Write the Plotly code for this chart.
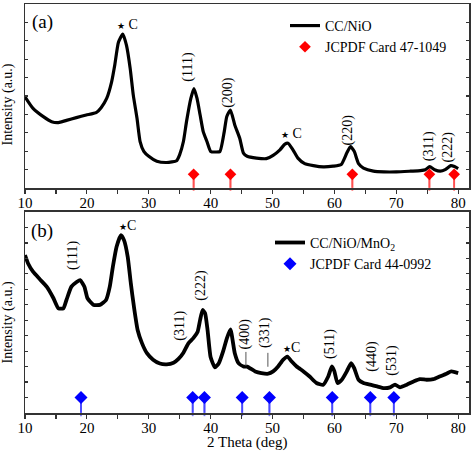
import plotly.graph_objects as go

# ---------------- data ----------------
theta_a = [10, 11.3, 12.96, 14.3, 15.4, 16.7, 18.3, 19.9, 21.5, 22.3,
           23.2, 24.0, 24.5, 25.1, 25.8, 26.4, 27.0, 27.5, 28.1, 28.6,
           29.2, 30.0, 31.3, 32.9, 34.5, 35.0, 35.6, 36.1, 36.8, 37.3,
           37.8, 38.3, 38.8, 39.4, 40.0, 40.7, 41.5, 42.2, 42.6, 43.2,
           43.9, 44.7, 45.3, 45.9, 47.4, 49.0, 50.1, 51.2, 52.0, 52.5,
           53.3, 54.1, 55.2, 56.6, 58.2, 59.8, 61.1, 62.0, 62.6, 63.2,
           63.9, 64.7, 66.3, 68.0, 70.0, 72.3, 73.9, 74.7, 75.4, 76.2,
           77.1, 77.9, 78.8, 79.4, 80.0]
intensity_a = [4.96, 4.33, 3.88, 3.61, 3.56, 3.68, 3.83, 3.97, 4.10, 4.37,
               4.87, 5.77, 6.67, 7.92, 8.37, 7.75, 6.49, 5.05, 3.79, 2.53,
               2.0, 1.73, 1.46, 1.39, 1.49, 1.82, 2.53, 3.61, 4.87, 5.41,
               4.87, 3.97, 3.07, 2.53, 1.99, 1.96, 1.99, 3.07, 3.88, 4.24,
               3.43, 2.71, 1.9, 1.73, 1.63, 1.6, 1.78, 2.08, 2.39, 2.44,
               2.08, 1.63, 1.33, 1.22, 1.15, 1.19, 1.28, 1.9, 2.26, 2.0,
               1.33, 1.09, 0.92, 0.88, 0.88, 0.92, 0.95, 1.0, 1.17, 1.0,
               0.92, 1.0, 1.22, 1.17, 1.06]

theta_b = [10, 10.5, 11.3, 12.4, 13.5, 14.6, 15.4, 16.2, 16.7, 17.5,
           18.4, 18.9, 19.6, 20.1, 21.1, 22.1, 23.1, 23.7, 24.2, 24.8,
           25.5, 26.0, 26.6, 27.1, 27.6, 28.2, 28.9, 29.7, 30.7, 31.8,
           32.9, 34.0, 34.8, 35.6, 36.4, 37.2, 37.9, 38.3, 38.7, 39.1,
           39.5, 40.0, 40.7, 41.3, 42.0, 42.6, 43.2, 43.9, 44.5, 45.3,
           45.9, 47.2, 48.2, 49.3, 50.1, 50.9, 51.7, 52.4, 53.1, 53.9,
           55.0, 56.0, 57.1, 58.2, 59.0, 59.6, 60.0, 60.5, 61.2, 62.0,
           62.7, 63.2, 63.9, 64.7, 65.8, 66.9, 68.0, 69.0, 69.8, 70.6,
           71.7, 72.8, 73.8, 74.9, 76.0, 77.0, 78.1, 78.9, 80.0]
intensity_b = [10.21, 9.67, 9.14, 8.65, 8.17, 7.42, 6.77, 6.77, 7.31, 8.17,
               8.49, 8.6, 8.17, 7.42, 6.99, 6.99, 7.31, 8.17, 9.46, 10.75,
               11.5, 11.18, 10.1, 8.39, 6.88, 5.37, 4.52, 3.87, 3.45, 3.2,
               3.15, 3.25, 3.5, 3.9, 4.5, 4.84, 5.26, 6.02, 6.66, 6.45,
               5.37, 3.6, 2.95, 3.2, 3.97, 4.8, 5.4, 3.87, 3.23, 3.01,
               3.0, 2.69, 2.58, 2.54, 2.69, 3.01, 3.44, 3.65, 3.33, 3.01,
               2.69, 2.36, 1.94, 1.83, 2.36, 3.01, 2.69, 1.94, 2.15, 2.69,
               3.23, 2.9, 2.15, 1.94, 1.83, 1.72, 1.61, 1.66, 1.83, 1.66,
               1.83, 2.04, 2.19, 2.15, 2.19, 2.36, 2.54, 2.69, 2.58]

ref_a_theta = [37.25, 43.2, 62.9, 75.35, 79.35]
ref_a_height = [0.75, 0.75, 0.75, 0.75, 0.75]
ref_b_theta = [19.05, 37.1, 39.0, 45.1, 49.5, 59.65, 65.8, 69.6]
ref_b_height = [1.0, 1.0, 1.0, 1.0, 1.0, 1.0, 1.0, 1.0]

name_a = "CC/NiO"
name_ref_a = "JCPDF Card 47-1049"
name_b = "CC/NiO/MnO<sub>2</sub>"
name_ref_b = "JCPDF Card 44-0992"

STAR = "<span style='font-size:9px'>★</span>"
labels_a = [(f"{STAR} C", 26.5, 8.9, 0), ("(111)", 36.3, 6.58, -90), ("(200)", 42.8, 5.23, -90),
            (f"{STAR} C", 53.1, 2.96, 0), ("(220)", 62.2, 3.13, -90), ("(311)", 75.4, 2.26, -90),
            ("(222)", 78.5, 2.26, -90)]
labels_b = [("(111)", 17.75, 10.21, -90), (f"{STAR}C", 26.5, 12.15, 0), ("(311)", 35.0, 5.63, -90),
            ("(222)", 38.4, 8.28, -90), ("(400)", 45.5, 5.12, -90), ("(331)", 48.8, 5.18, -90),
            (f"{STAR}C", 53.0, 4.21, 0), ("(511)", 59.3, 4.47, -90), ("(440)", 66.05, 3.70, -90),
            ("(531)", 69.3, 3.44, -90)]
leaders_b = [(45.7, 3.95, 3.05), (49.25, 3.89, 2.99)]

FONT = "Liberation Serif, Times New Roman, serif"
XR = [10, 81.75]
YR_A = [0, 10]
YR_B = [0, 13]
DOM_A = [(413 - 187) / 411, 1.0]
DOM_B = [0.0, (413 - 211) / 411]
PLOT_H = 411


def stem_xy(xs, hs):
    sx, sy = [], []
    for xv, hv in zip(xs, hs):
        sx += [xv, xv, None]
        sy += [0.02, hv, None]
    return sx, sy


def px_per_unit(dom, yr):
    return (dom[1] - dom[0]) * PLOT_H / (yr[1] - yr[0])


fig = go.Figure()
fig.add_trace(go.Scatter(x=theta_a, y=intensity_a, mode="lines", name=name_a,
                         line=dict(color="black", width=3.2, shape="spline", smoothing=0.5),
                         xaxis="x", yaxis="y", legend="legend"))
sxa, sya = stem_xy(ref_a_theta, ref_a_height)
fig.add_trace(go.Scatter(x=sxa, y=sya, mode="lines", showlegend=False, cliponaxis=False,
                         connectgaps=False, line=dict(color="#ff5050", width=1.8),
                         xaxis="x", yaxis="y"))
# same stems again as vertical-line markers centred half-way up each stem
fig.add_trace(go.Scatter(x=ref_a_theta, y=[h / 2 for h in ref_a_height], mode="markers",
                         showlegend=False, cliponaxis=False,
                         marker=dict(symbol="line-ns", size=[h * px_per_unit(DOM_A, YR_A) for h in ref_a_height],
                                     line=dict(color="#ff5050", width=1.8)),
                         xaxis="x", yaxis="y"))
fig.add_trace(go.Scatter(x=ref_a_theta, y=ref_a_height, mode="markers", name=name_ref_a,
                         marker=dict(symbol="diamond", size=9, color="#ff0000"), cliponaxis=False,
                         xaxis="x", yaxis="y", legend="legend"))
fig.add_trace(go.Scatter(x=theta_b, y=intensity_b, mode="lines", name=name_b,
                         line=dict(color="black", width=3.8, shape="spline", smoothing=0.5),
                         xaxis="x2", yaxis="y2", legend="legend2"))
sxb, syb = stem_xy(ref_b_theta, ref_b_height)
fig.add_trace(go.Scatter(x=sxb, y=syb, mode="lines", showlegend=False, cliponaxis=False,
                         connectgaps=False, line=dict(color="#4848ff", width=1.8),
                         xaxis="x2", yaxis="y2"))
fig.add_trace(go.Scatter(x=ref_b_theta, y=[h / 2 for h in ref_b_height], mode="markers",
                         showlegend=False, cliponaxis=False,
                         marker=dict(symbol="line-ns", size=[h * px_per_unit(DOM_B, YR_B) for h in ref_b_height],
                                     line=dict(color="#4848ff", width=1.8)),
                         xaxis="x2", yaxis="y2"))
fig.add_trace(go.Scatter(x=ref_b_theta, y=ref_b_height, mode="markers", name=name_ref_b,
                         marker=dict(symbol="diamond", size=10, color="#0000ff"), cliponaxis=False,
                         xaxis="x2", yaxis="y2", legend="legend2"))

ax_line = dict(showline=True, linecolor="#333", linewidth=1.5, showgrid=False, zeroline=False)
tickfont = dict(family=FONT, size=15, color="black")

bottom_x = dict(range=XR, tickmode="linear", tick0=10, dtick=10, ticks="outside", ticklen=4,
                tickwidth=1.2, tickcolor="#333", tickfont=tickfont, mirror=True, ticklabelstandoff=-4,
                minor=dict(dtick=5, tick0=10, ticks="outside", ticklen=4, tickwidth=1.2, tickcolor="#333"),
                **ax_line)
top_x = dict(range=XR, tickmode="linear", tick0=10, dtick=5, ticks="inside", ticklen=4,
             tickwidth=1.2, tickcolor="#333", showticklabels=False, side="top",
             showgrid=False, zeroline=False, showline=False)
y_common = dict(tickmode="linear", tick0=0, dtick=1, ticks="inside", ticklen=3, tickwidth=1.2,
                tickcolor="#333", showticklabels=False, mirror="ticks", **ax_line)

fig.update_layout(
    width=473, height=453,
    margin=dict(l=25, r=4, t=2, b=40),
    paper_bgcolor="white", plot_bgcolor="rgba(0,0,0,0)",
    hovermode=False,
    font=dict(family=FONT, size=14, color="black"),
    xaxis=dict(anchor="y", domain=[0, 1], **bottom_x),
    xaxis3=dict(anchor="y", overlaying="x", **top_x),
    yaxis=dict(anchor="x", domain=DOM_A, range=YR_A, **y_common),
    xaxis2=dict(anchor="y2", domain=[0, 1], **bottom_x),
    xaxis4=dict(anchor="y2", overlaying="x2", **top_x),
    yaxis2=dict(anchor="x2", domain=DOM_B, range=YR_B, **y_common),
    legend=dict(x=(285 - 25) / 444, y=(413 - 8) / 411, xanchor="left", yanchor="top",
                bgcolor="rgba(0,0,0,0)", font=dict(family=FONT, size=14), tracegroupgap=0,
                itemwidth=30),
    legend2=dict(x=(270 - 25) / 444, y=(413 - 226) / 411, xanchor="left", yanchor="top",
                 bgcolor="rgba(0,0,0,0)", font=dict(family=FONT, size=14), tracegroupgap=0,
                 itemwidth=30),
)

ann = []
for txt, xx, yy, ang in labels_a:
    ann.append(dict(text=txt, x=xx, y=yy, xref="x", yref="y", showarrow=False, textangle=ang,
                    xanchor="center", yanchor="middle", font=dict(family=FONT, size=14)))
for txt, xx, yy, ang in labels_b:
    ann.append(dict(text=txt, x=xx, y=yy, xref="x2", yref="y2", showarrow=False, textangle=ang,
                    xanchor="center", yanchor="middle", font=dict(family=FONT, size=14)))
ann.append(dict(text="(a)", x=(42 - 25) / 444, y=(187 - 20) / 185, xref="x domain", yref="y domain",
                xanchor="center", yanchor="middle", showarrow=False, font=dict(family=FONT, size=19)))
ann.append(dict(text="(b)", x=(42 - 25) / 444, y=(413 - 230) / 202, xref="x2 domain", yref="y2 domain",
                xanchor="center", yanchor="middle", showarrow=False, font=dict(family=FONT, size=19)))
ann.append(dict(text="Intensity (a.u.)", x=(8 - 25) / 444, y=(413 - 103) / 411, xref="paper", yref="paper",
                xanchor="center", yanchor="middle", showarrow=False, textangle=-90,
                font=dict(family=FONT, size=14)))
ann.append(dict(text="Intensity (a.u.)", x=(8 - 25) / 444, y=(413 - 322) / 411, xref="paper", yref="paper",
                xanchor="center", yanchor="middle", showarrow=False, textangle=-90,
                font=dict(family=FONT, size=14)))
ann.append(dict(text="2 Theta (deg)", x=0.5, y=(413 - 443) / 411, xref="paper", yref="paper",
                xanchor="center", yanchor="middle", showarrow=False, font=dict(family=FONT, size=15)))
fig.update_layout(annotations=ann)

for xx, y0, y1 in leaders_b:
    fig.add_shape(type="line", x0=xx, x1=xx, y0=y0, y1=y1, xref="x2", yref="y2",
                  line=dict(color="#555", width=1))

fig.write_html("out.html", config={"displayModeBar": False, "staticPlot": True},
               post_script="document.body.style.margin='0';")
